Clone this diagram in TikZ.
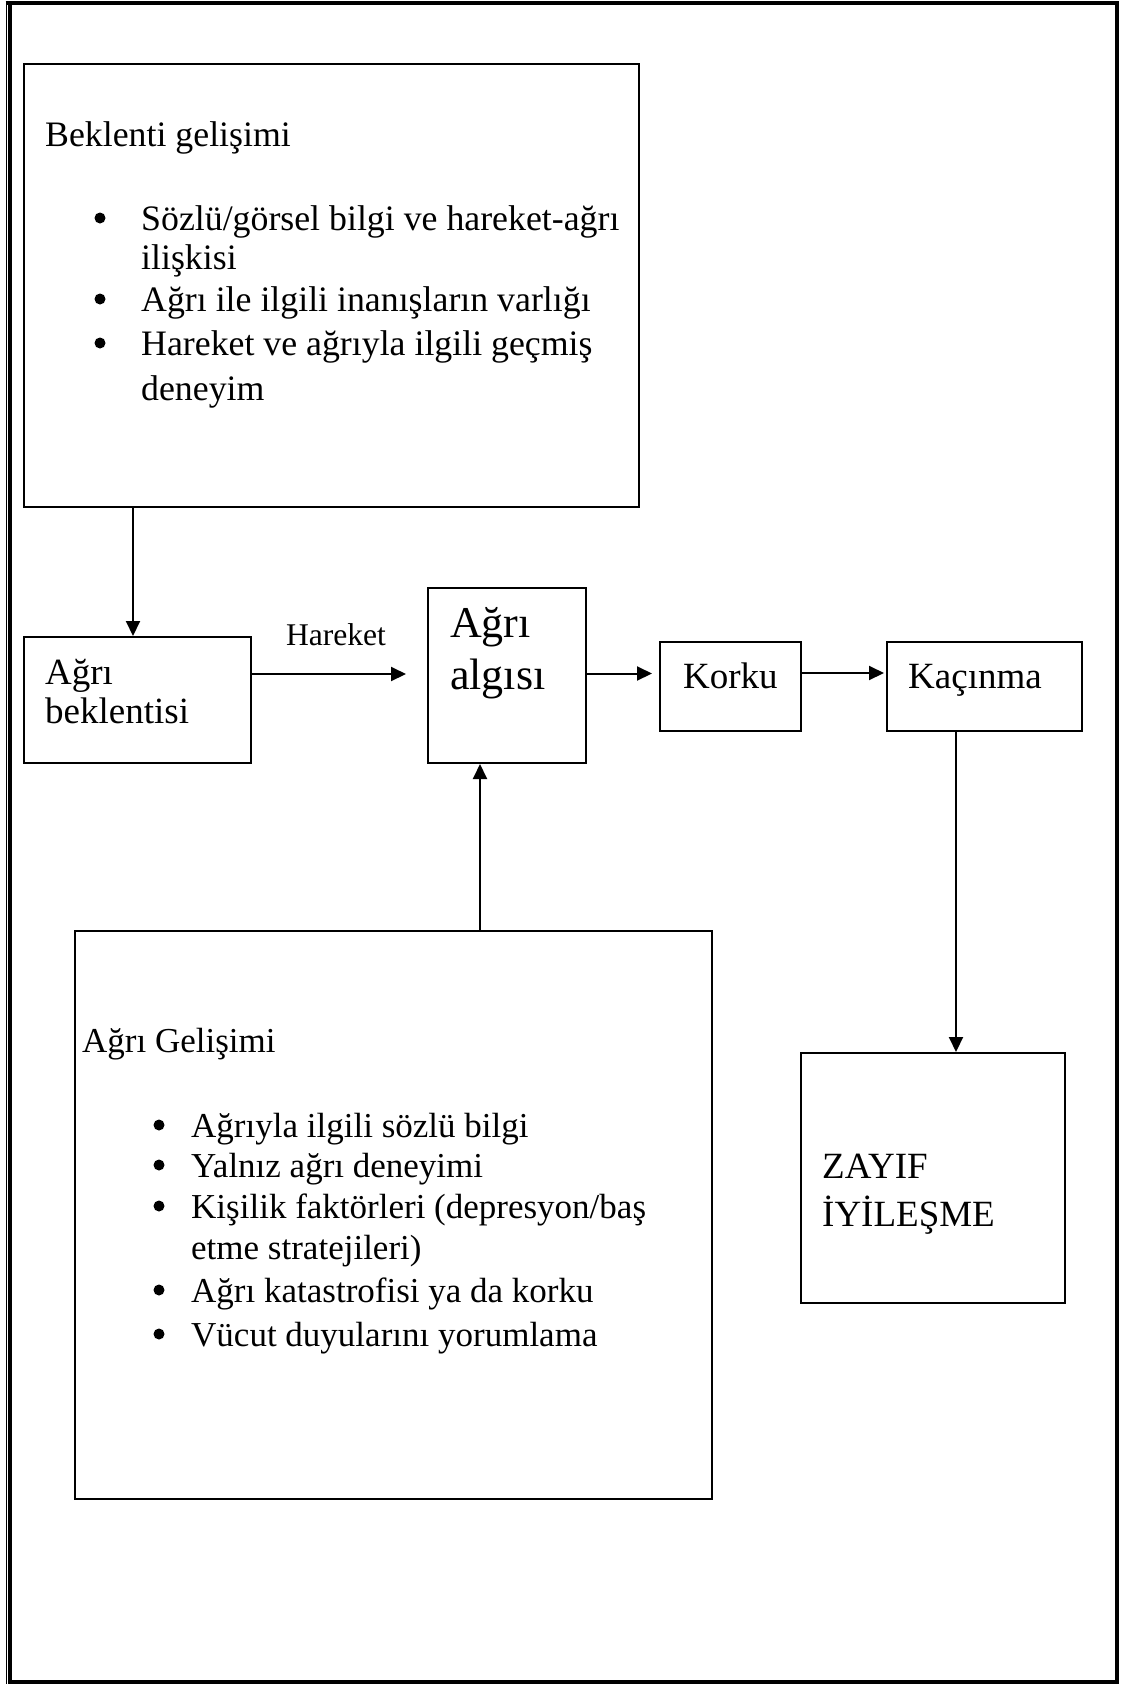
\documentclass[tikz,border=0pt]{standalone}
\usepackage{fontspec}
\setmainfont{Liberation Serif}
\usetikzlibrary{arrows.meta}

% two lines of left-aligned text whose baseline is that of the first line
\newcommand{\twolines}[2]{\begin{tabular}[t]{@{}l@{}}#1\\#2\end{tabular}}

\begin{document}
\begin{tikzpicture}[x=1pt,y=-1pt,
  box/.style={draw, line width=2pt, rectangle, inner sep=0pt},
  arr/.style={line width=2pt, -{Triangle[length=15pt,width=14pt]}},
  txt/.style={inner sep=0pt, anchor=base west},
  bodyA/.style={txt, font=\fontsize{35.8}{39.5}\selectfont},
  bodyB/.style={txt, font=\fontsize{35}{41.5}\selectfont},
  big/.style={txt, font=\fontsize{37}{39}\selectfont},
  huge/.style={txt, font=\fontsize{44}{52}\selectfont},
  small/.style={txt, anchor=base, font=\fontsize{31.6}{36}\selectfont},
  dot/.style={circle, fill=black, inner sep=0pt, minimum size=11pt}
]
\useasboundingbox (0,0) rectangle (1120,1684);

% page border: thick frame with a thin rule on the left
\draw[line width=3.5pt] (10,3) -- (10,1682) -- (1117,1682) -- (1117,3);
\draw[line width=4pt] (5.5,3) -- (1119,3);
\draw[line width=1.3pt] (6.6,1) -- (6.6,1684);

% boxes
\node[box, minimum width=615pt, minimum height=443pt] (beklGel) at (331.5,285.5) {};
\node[box, minimum width=227pt, minimum height=126pt] (beklenti) at (137.5,700) {};
\node[box, minimum width=158pt, minimum height=175pt] (algi) at (507,675.5) {};
\node[box, minimum width=141pt, minimum height=89pt] (korku) at (730.5,686.5) {};
\node[box, minimum width=195pt, minimum height=89pt] (kacinma) at (984.5,686.5) {};
\node[box, minimum width=637pt, minimum height=568pt] (agriGel) at (393.5,1215) {};
\node[box, minimum width=264pt, minimum height=250pt] (zayif) at (933,1178) {};

% texts of the upper box
\node[bodyA] (t1) at (45,146) {Beklenti gelişimi};
\node[dot] (b11) at (100,218) {};
\node[bodyA] (t11) at (141,230) {\twolines{Sözlü/görsel bilgi ve hareket-ağrı}{ilişkisi}};
\node[dot] (b12) at (100,299) {};
\node[bodyA] (t12) at (141,311) {Ağrı ile ilgili inanışların varlığı};
\node[dot] (b13) at (100,343) {};
\node[bodyA, font=\fontsize{35.8}{45}\selectfont] (t13) at (141,355) {\twolines{Hareket ve ağrıyla ilgili geçmiş}{deneyim}};

% texts of the middle row
\node[big] (t2) at (45,684) {\twolines{Ağrı}{beklentisi}};
\node[small] (hareket) at (336,645) {Hareket};
\node[huge] (t3) at (450,637) {\twolines{Ağrı}{algısı}};
\node[big] (t4) at (683,688) {Korku};
\node[big] (t5) at (908,688) {Kaçınma};

% texts of the lower box
\node[bodyB] (t6) at (82,1052) {Ağrı Gelişimi};
\node[dot] (b61) at (159,1125) {};
\node[bodyB] (t61) at (191,1137) {Ağrıyla ilgili sözlü bilgi};
\node[dot] (b62) at (159,1165) {};
\node[bodyB] (t62) at (191,1177) {Yalnız ağrı deneyimi};
\node[dot] (b63) at (159,1206) {};
\node[bodyB] (t63) at (191,1218) {\twolines{Kişilik faktörleri (depresyon/baş}{etme stratejileri)}};
\node[dot] (b64) at (159,1290) {};
\node[bodyB] (t64) at (191,1302) {Ağrı katastrofisi ya da korku};
\node[dot] (b65) at (159,1334) {};
\node[bodyB] (t65) at (191,1346) {Vücut duyularını yorumlama};

% outcome box text
\node[big, font=\fontsize{37}{48}\selectfont] (t7) at (822,1178) {\twolines{ZAYIF}{İYİLEŞME}};

% connectors
\draw[arr] ([xshift=-4.5pt]beklenti.north |- beklGel.south) -- ([xshift=-4.5pt]beklenti.north);
\draw[arr, shorten >=21pt] ([yshift=26pt]beklenti.east) -- ([yshift=26pt]beklenti.east -| algi.west);
\draw[arr, shorten >=7pt] ([yshift=2pt]algi.east) -- ([yshift=2pt]algi.east -| korku.west);
\draw[arr, shorten >=2pt] ([yshift=13.5pt]korku.east) -- ([yshift=13.5pt]korku.east -| kacinma.west);
\draw[arr] ([xshift=23pt]zayif.north |- kacinma.south) -- ([xshift=23pt]zayif.north);
\draw[arr] ([xshift=-27pt]algi.south |- agriGel.north) -- ([xshift=-27pt]algi.south);

\end{tikzpicture}
\end{document}
